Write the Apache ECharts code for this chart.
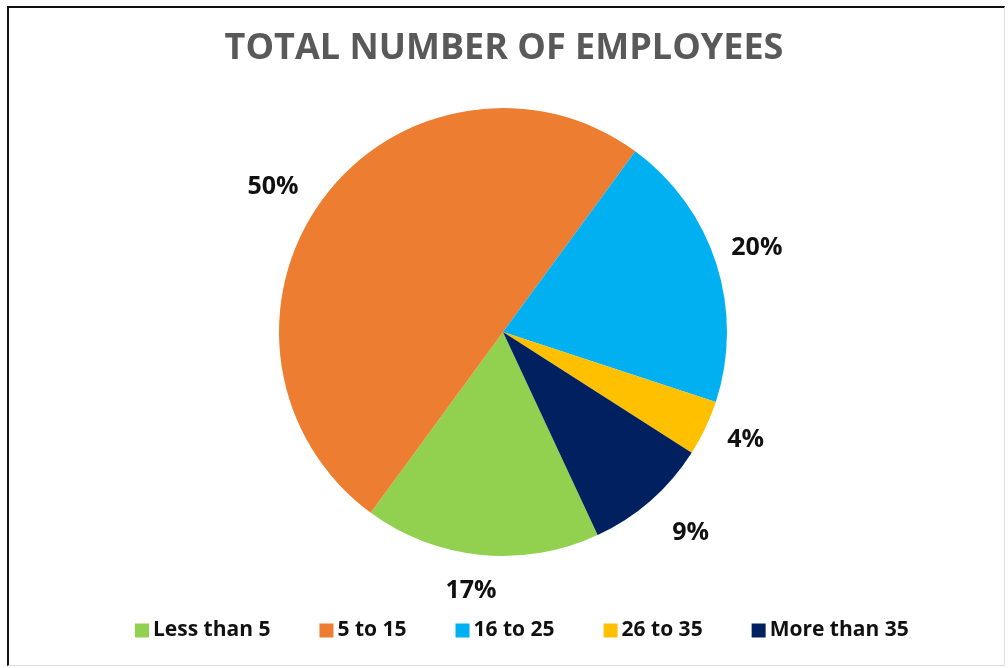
<!DOCTYPE html>
<html>
<head>
<meta charset="utf-8">
<script src="https://cdn.jsdelivr.net/npm/echarts@6/dist/echarts.min.js"></script>
<style>
  html, body { margin: 0; padding: 0; background: #fff; }
  #frame {
    position: absolute; left: 7px; top: 6px; width: 995px; height: 657px;
    border-left: 2px solid #111; border-top: 2px solid #111;
    border-right: 1px solid #ddd; border-bottom: 1px solid #ddd;
  }
  #chart { position: absolute; left: 0; top: 0; width: 1008px; height: 668px; }
</style>
</head>
<body>
<div id="frame"></div>
<div id="chart"></div>
<script>
// Share of companies by total number of employees (percent)
const categories = ['Less than 5', '5 to 15', '16 to 25', '26 to 35', 'More than 35'];
const shares = [17, 50, 20, 4, 9];
const colors = ['#92D050', '#ED7D31', '#00B0F0', '#FFC000', '#002060'];
// how far each percentage label sits beyond the rim, and small nudges
const labelReach = [36, 22, 20, 22, 36];
const labelNudge = [[19, 0], [-6, 0], [-4, -10], [2, 2], [-2, 5]];

const chart = echarts.init(document.getElementById('chart'));
chart.setOption({
  animation: false,
  color: colors,
  title: {
    text: 'TOTAL NUMBER OF EMPLOYEES',
    left: 'center', top: 26,
    textStyle: { fontFamily: 'Open Sans', fontWeight: 'bold', fontSize: 36, color: '#595959' }
  },
  legend: {
    bottom: 22, left: 130,
    itemWidth: 14, itemHeight: 14, itemGap: 49,
    icon: 'rect',
    textStyle: { fontFamily: 'Open Sans', fontWeight: 'bold', fontSize: 21, color: '#111', padding: [0, 0, 0, -1] },
    data: categories
  },
  series: [{
    type: 'pie',
    center: [503, 332],
    radius: 224,
    startAngle: 295,
    clockwise: true,
    avoidLabelOverlap: false,
    label: {
      show: true, position: 'outside',
      formatter: '{c}%',
      fontFamily: 'Open Sans', fontWeight: 'bold', fontSize: 25, color: '#111',
      distanceToLabelLine: 0
    },
    labelLine: { show: false, length: 22, length2: 0 },
    labelLayout: function (p) {
      const n = labelNudge[p.dataIndex];
      return { dx: n[0], dy: n[1] };
    },
    itemStyle: { borderWidth: 0 },
    data: categories.map((n, i) => ({
      name: n, value: shares[i],
      labelLine: { show: false, length: labelReach[i], length2: 0 }
    }))
  }]
});
</script>
</body>
</html>
